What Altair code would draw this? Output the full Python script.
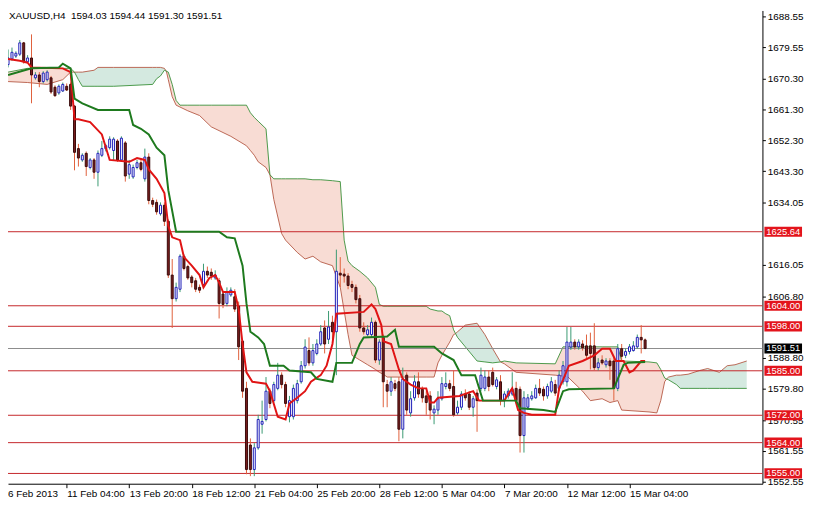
import altair as alt
import pandas as pd

# ---------------- data ----------------
opens = [1674.48,1676.14,1676.97,1677.52,1680.83,1675.31,1676.41,1670.62,1671.45,1669.52,
1670.07,1670.62,1667.86,1666.21,1666.76,1668.14,1668.69,1662.35,1649.93,1646.62,
1648.55,1644.41,1646.62,1643.03,1647.98,1649.93,1650.21,1649.38,1652.14,1646.62,
1651.59,1642.48,1641.66,1644.41,1645.79,1641.10,1647.45,1634.76,1634.21,1630.90,
1633.38,1628.69,1612.97,1606.07,1608.83,1618.48,1615.45,1612.41,1611.31,1609.38,
1610.21,1614.07,1613.79,1612.14,1611.31,1607.45,1604.69,1607.17,1606.62,1603.86,
1593.66,1579.86,1563.31,1556.14,1562.48,1569.38,1570.76,1579.04,1576.28,1579.86,
1583.72,1580.97,1571.59,1571.59,1576.28,1581.79,1586.48,1590.90,1587.31,1590.07,
1592.83,1597.52,1594.21,1599.17,1596.41,1613.52,1613.24,1612.69,1610.21,1609.38,
1606.07,1597.52,1595.59,1595.59,1599.17,1588.14,1594.76,1580.97,1579.04,1581.24,
1581.79,1567.93,1583.72,1572.69,1577.10,1581.79,1579.59,1577.66,1577.66,1572.69,
1573.52,1576.83,1580.41,1581.24,1580.41,1572.69,1574.35,1578.21,1578.21,1574.35,
1578.48,1579.86,1579.86,1583.17,1584.55,1580.41,1581.79,1576.28,1577.66,1578.21,
1579.86,1579.59,1566.07,1574.35,1576.83,1577.10,1579.86,1579.59,1577.66,1579.04,
1580.97,1579.86,1581.79,1581.79,1591.93,1593.38,1592.00,1592.83,1592.28,1592.28,
1592.28,1585.93,1588.14,1586.76,1587.86,1587.86,1579.86,1591.45,1589.52,1590.62,
1590.90,1592.00,1594.76,1594.03]

highs = [1678.90,1679.45,1678.35,1681.66,1681.10,1677.24,1683.31,1672.28,1672.28,1672.55,
1672.83,1671.17,1668.41,1668.69,1669.24,1668.97,1669.24,1662.62,1651.31,1648.55,
1649.10,1647.17,1647.17,1649.38,1652.14,1651.31,1653.52,1653.24,1652.69,1653.52,
1652.14,1646.62,1645.24,1646.62,1646.62,1649.93,1648.55,1635.59,1635.04,1634.21,
1634.21,1629.24,1617.66,1610.76,1619.04,1619.04,1616.00,1612.97,1612.14,1610.21,
1616.28,1615.45,1614.90,1614.35,1612.14,1608.28,1609.38,1609.38,1608.83,1605.24,
1594.21,1581.79,1565.24,1563.86,1572.14,1576.28,1583.17,1579.86,1581.79,1587.31,
1584.55,1581.79,1577.66,1580.97,1582.35,1587.86,1594.21,1594.76,1592.83,1594.21,
1598.35,1599.72,1602.48,1601.10,1620.41,1618.21,1614.90,1613.52,1611.31,1610.21,
1607.17,1599.17,1598.35,1600.55,1599.72,1594.21,1595.59,1582.35,1583.17,1582.35,
1583.17,1585.93,1584.55,1579.04,1583.72,1584.55,1580.41,1579.04,1579.04,1574.90,
1579.04,1583.17,1584.55,1582.35,1585.10,1576.28,1579.04,1579.59,1579.04,1577.66,
1579.59,1585.93,1585.10,1585.10,1585.93,1583.17,1583.72,1579.04,1579.86,1584.55,
1581.79,1580.41,1579.04,1578.21,1579.04,1580.97,1582.62,1580.41,1581.24,1583.17,
1582.35,1585.10,1587.86,1597.79,1597.79,1594.21,1594.21,1593.93,1595.59,1596.14,
1598.90,1588.69,1589.52,1588.69,1588.69,1588.69,1592.83,1592.83,1591.45,1592.83,
1593.66,1595.59,1598.35,1594.44]

lows = [1673.66,1675.59,1676.41,1676.97,1674.76,1675.04,1663.17,1670.07,1667.86,1668.97,
1669.52,1665.93,1665.10,1665.66,1666.48,1666.76,1661.24,1643.59,1644.69,1646.07,
1641.93,1643.86,1641.10,1638.90,1647.45,1649.10,1649.65,1646.62,1646.07,1646.07,
1640.28,1641.10,1641.10,1643.86,1643.31,1640.28,1633.66,1632.83,1630.62,1630.35,
1627.31,1612.14,1597.52,1605.24,1608.00,1614.35,1611.59,1609.38,1608.00,1607.72,
1609.38,1612.14,1611.59,1611.59,1600.28,1603.31,1603.86,1606.62,1602.21,1588.14,
1577.10,1554.76,1554.21,1554.21,1561.93,1566.62,1570.21,1574.07,1575.72,1579.31,
1579.86,1574.35,1569.93,1570.76,1575.45,1581.24,1585.66,1586.48,1586.48,1589.52,
1592.28,1590.07,1592.83,1594.21,1583.72,1609.38,1610.76,1608.83,1608.00,1604.69,
1596.41,1595.59,1595.04,1594.76,1587.31,1586.76,1574.35,1574.35,1577.66,1579.04,
1564.41,1565.24,1572.14,1571.59,1576.28,1577.10,1575.72,1572.14,1570.76,1569.38,
1572.14,1576.28,1579.59,1579.04,1571.59,1572.14,1573.52,1576.28,1573.52,1571.59,
1567.17,1579.04,1579.04,1579.04,1580.41,1579.59,1574.90,1574.35,1576.83,1577.66,
1575.45,1561.10,1561.10,1573.52,1576.28,1576.83,1577.66,1576.28,1576.83,1578.48,
1577.66,1579.04,1580.97,1580.41,1591.10,1591.17,1591.17,1590.90,1588.69,1585.38,
1585.10,1585.10,1586.76,1585.93,1582.35,1576.28,1579.04,1587.86,1588.69,1589.79,
1590.62,1591.45,1590.07,1591.30]

closes = [1676.41,1678.07,1677.79,1680.83,1675.31,1676.41,1671.45,1671.45,1669.52,1672.00,
1672.28,1666.48,1665.38,1668.14,1668.69,1667.04,1662.35,1648.83,1647.17,1647.98,
1644.69,1646.62,1643.03,1648.55,1649.93,1650.76,1652.69,1652.69,1646.62,1652.97,
1641.93,1645.24,1644.41,1645.79,1643.86,1647.45,1634.76,1633.66,1631.45,1633.38,
1628.69,1612.97,1606.07,1609.38,1618.48,1614.90,1612.14,1610.76,1608.83,1608.55,
1614.07,1612.97,1612.69,1612.97,1604.69,1604.41,1608.00,1608.55,1603.03,1592.00,
1579.04,1556.14,1556.14,1562.48,1570.76,1570.21,1579.04,1575.45,1580.97,1583.72,
1580.97,1575.45,1576.28,1579.86,1581.24,1586.48,1591.93,1587.31,1590.90,1592.83,
1596.41,1592.83,1597.79,1596.41,1614.07,1612.97,1612.69,1609.93,1609.38,1605.79,
1597.52,1596.41,1596.97,1599.17,1588.14,1593.38,1581.79,1579.04,1581.79,1579.86,
1567.93,1582.62,1573.52,1576.83,1581.79,1578.21,1577.10,1575.72,1573.52,1573.79,
1576.83,1581.24,1581.24,1579.86,1572.14,1574.35,1578.21,1577.10,1574.35,1576.83,
1576.28,1583.72,1583.17,1580.41,1580.97,1582.35,1576.28,1578.21,1579.04,1579.59,
1576.28,1566.07,1577.10,1577.10,1577.66,1579.86,1578.48,1577.66,1580.41,1581.79,
1578.48,1583.72,1586.48,1593.38,1593.38,1592.00,1593.38,1591.72,1589.52,1590.07,
1585.93,1587.31,1587.31,1587.86,1586.48,1579.86,1591.45,1589.24,1590.62,1592.00,
1592.28,1594.76,1594.03,1591.51]

# Tenkan-sen (red) read at its turning points
tenkan_idx = [0,3,5,6,14,16,17,18,21,24,26,31,33,35,36,38,40,41,42,44,
45,47,49,50,51.5,53,54,55,58,59,60,61,62.5,66,67,69,71,72,74,76,
77.5,80,81.5,83,84,91,93,94,95.5,96,98,100,101,103,105,107,108,109,110,115.5,
117.5,119,120.5,127,128,129,130.5,132,134,140,141,142,143.5,147,150,152,154,155.5,157.5,159,
160,162,163]
tenkan_val = [1676.14,1675.59,1675.04,1673.66,1673.38,1672.28,1658.48,1658.48,1657.66,1654.07,
1646.62,1646.07,1647.17,1646.62,1643.86,1641.10,1636.97,1627.31,1624.00,1623.17,
1618.21,1615.72,1612.97,1609.38,1612.14,1612.97,1610.76,1608.00,1608.00,1603.03,
1592.83,1584.55,1581.79,1581.24,1579.04,1571.59,1570.76,1575.45,1577.10,1579.04,
1581.79,1583.72,1586.48,1592.83,1601.66,1602.21,1604.41,1603.03,1598.35,1593.66,
1592.83,1585.38,1582.62,1580.97,1579.86,1579.86,1575.72,1575.72,1577.10,1577.66,
1578.48,1579.04,1576.28,1576.28,1578.21,1579.86,1573.52,1572.69,1572.14,1572.14,
1579.86,1582.35,1586.48,1587.86,1589.52,1591.45,1591.45,1587.86,1587.86,1584.55,
1585.10,1587.86,1587.86]

# Kijun-sen (green) read at its turning points
kijun_idx = [0,6,13,14,16,17,19,23,31,32,34,36,38,40,41,43,54,56,58,60,
61,62,64,65.5,67,70.5,72,77.5,79,83,84,88,90,91,97,99,100,109,111,114,
116,119.5,121.5,130,131,137,140,142,143.5,155,157.5,158.5,163]
kijun_val = [1671.45,1673.38,1673.66,1674.76,1673.38,1664.55,1663.17,1661.24,1661.24,1656.83,
1655.72,1654.07,1650.21,1647.98,1637.79,1625.64,1625.64,1624.00,1623.72,1615.72,
1604.69,1596.41,1594.76,1592.83,1586.48,1586.48,1585.10,1584.55,1582.62,1581.79,
1587.31,1587.31,1592.83,1594.76,1595.04,1596.97,1592.00,1592.00,1590.07,1588.14,
1583.72,1583.72,1576.28,1576.28,1574.07,1573.52,1572.97,1579.04,1579.59,1579.86,
1586.76,1587.31,1587.59]

# Kumo (Senkou span A / B), one segment per colour of the cloud
cloud_idx = [0,5,10,14,16,17,
17,18,19,22,23,27,37,38,39,40,40.5,
40.5,41,42,43,44,46,49,52,57,61,62,63,64,66,67,68,70,71,74,76,78,80,83,85,86,87,88,90,92,94,95,96,97,107,108,109,110,111,112,113,114,114.5,
114.5,115,117,120,122,124,126,
126,127,130,140,142,143,147,149,152,154,156,157,164,166,167,168,168.5,
168.5,169,171,172,174,177,179,182,184,186,189]
span_a = [1669.52,1669.24,1668.69,1670.07,1672.28,1672.28,
1672.28,1672.28,1672.28,1672.83,1673.66,1673.66,1673.66,1673.66,1673.66,1673.38,1672.55,
1672.55,1670.07,1665.10,1662.62,1662.07,1660.97,1659.59,1656.28,1653.52,1650.76,1649.38,1647.98,1646.07,1644.41,1642.30,1635.04,1625.10,1623.17,1619.59,1617.66,1618.48,1616.83,1615.72,1609.38,1602.48,1595.59,1589.52,1588.14,1586.76,1585.38,1584.55,1584.00,1583.17,1583.17,1583.17,1583.17,1587.31,1589.52,1591.45,1593.38,1595.59,1595.86,
1595.86,1596.41,1598.35,1598.90,1595.59,1591.45,1587.59,
1587.59,1587.03,1584.55,1583.72,1583.45,1583.45,1579.04,1576.28,1576.83,1575.72,1576.28,1573.52,1572.97,1572.69,1576.28,1581.79,1582.62,
1582.62,1583.17,1583.72,1583.72,1584.00,1585.10,1585.66,1584.55,1586.48,1586.76,1587.86]
span_b = [1672.28,1673.38,1673.38,1673.38,1673.38,1672.28,
1672.28,1670.07,1668.14,1668.14,1668.14,1668.14,1668.69,1670.34,1671.17,1672.83,1672.55,
1672.55,1672.28,1668.69,1664.00,1662.62,1662.62,1662.62,1662.62,1662.62,1662.62,1660.41,1659.04,1657.93,1655.72,1642.30,1641.10,1641.10,1641.10,1641.10,1641.10,1640.83,1640.83,1640.55,1640.28,1623.17,1617.10,1615.72,1614.07,1612.14,1609.38,1604.41,1603.86,1603.86,1603.86,1603.03,1602.76,1602.48,1602.48,1601.66,1601.10,1596.97,1595.86,
1595.86,1594.76,1592.00,1587.86,1587.59,1587.31,1587.59,
1587.59,1587.86,1587.31,1587.03,1592.00,1592.00,1592.00,1592.00,1592.00,1592.00,1592.00,1587.86,1587.59,1587.31,1585.38,1582.90,1582.62,
1582.62,1582.35,1580.97,1579.86,1579.86,1579.86,1579.86,1579.86,1579.86,1579.86,1579.86]
cloud_seg = [0]*6 + [1]*11 + [2]*42 + [3]*7 + [4]*17 + [5]*11
seg_kind = ["bear", "bull", "bear", "bull", "bear", "bull"]

levels = [1625.64, 1604.00, 1598.00, 1585.00, 1572.00, 1564.00, 1555.00]
last_price = 1591.51

y_ticks = [1688.55, 1679.55, 1670.30, 1661.30, 1652.30, 1643.30, 1634.05,
           1616.05, 1606.80, 1588.80, 1579.80, 1570.55, 1561.55, 1552.55]
x_label_idx = [15, 31, 47, 63, 79, 95, 111, 127, 143, 159]
x_label_txt = ["11 Feb 04:00", "13 Feb 20:00", "18 Feb 12:00", "21 Feb 04:00", "25 Feb 20:00",
               "28 Feb 12:00", "5 Mar 04:00", "7 Mar 20:00", "12 Mar 12:00", "15 Mar 04:00"]
first_label = "6 Feb 2013"
title_text = "XAUUSD,H4\u00a0\u00a01594.03 1594.44 1591.30 1591.51"

# ---------------- chart ----------------
W, H = 762, 478
FONT = "Liberation Sans"
xs = alt.Scale(domain=[1.25, 191.75], nice=False, zero=False)
ys = alt.Scale(domain=[1552.0, 1690.3], nice=False, zero=False)

candles = pd.DataFrame({"i": list(range(len(opens))), "open": opens, "high": highs,
                        "low": lows, "close": closes})
candles["dir"] = ["bull" if c >= o else "bear" for o, c in zip(opens, closes)]
tenkan = pd.DataFrame({"i": tenkan_idx, "v": tenkan_val})
kijun = pd.DataFrame({"i": kijun_idx, "v": kijun_val})
cloud = pd.DataFrame({"i": cloud_idx, "a": span_a, "b": span_b, "seg": cloud_seg})
cloud["kind"] = [seg_kind[s] for s in cloud_seg]
lv = pd.DataFrame({"level": levels, "label": [f"{v:.2f}" for v in levels]})
last = pd.DataFrame({"level": [last_price], "label": [f"{last_price:.2f}"]})

label_expr = ("[" + ",".join(f"'{t}'" for t in x_label_txt) + "][indexof(["
              + ",".join(str(v) for v in x_label_idx) + "], datum.value)]")

x_axis = alt.Axis(values=x_label_idx, labelExpr=label_expr, orient="bottom", title=None,
                  grid=False, tickSize=4, tickColor="black", domainColor="black",
                  labelAlign="left", labelBaseline="top", labelPadding=1, labelFlush=False,
                  labelOverlap=False, labelColor="black", labelFont=FONT, labelFontSize=10)
y_axis = alt.Axis(values=y_ticks, format=".2f", orient="right", title=None, grid=False,
                  tickSize=3, tickColor="black", domainColor="black", labelPadding=2,
                  labelFlush=False, labelOverlap=False, labelColor="black",
                  labelFont=FONT, labelFontSize=10, labelBaseline="middle")

X = lambda f: alt.X(f, scale=xs, axis=x_axis, title=None)
Y = lambda f: alt.Y(f, scale=ys, axis=y_axis, title=None)

cloud_area = alt.Chart(cloud).mark_area(opacity=0.22, clip=True).encode(
    x=X("i:Q"), y=Y("a:Q"), y2="b:Q", detail="seg:N",
    color=alt.Color("kind:N", scale=alt.Scale(domain=["bear", "bull"],
                    range=["#e0603c", "#3a9a72"]), legend=None))
span_a_line = alt.Chart(cloud).mark_line(color="#b0503a", strokeWidth=1, opacity=0.85,
                                         clip=True).encode(
    x=X("i:Q"), y=Y("a:Q"), order="i:Q")
span_b_line = alt.Chart(cloud).mark_line(color="#2f8a2f", strokeWidth=1, opacity=0.85,
                                         clip=True).encode(
    x=X("i:Q"), y=Y("b:Q"), order="i:Q")

level_rules = alt.Chart(lv).mark_rule(color="#c4262a", strokeWidth=1).encode(y=Y("level:Q"))
last_rule = alt.Chart(last).mark_rule(color="#8c8c8c", strokeWidth=1).encode(y=Y("level:Q"))

wicks = alt.Chart(candles).mark_rule(strokeWidth=1, clip=True).encode(
    x=X("i:Q"), y=Y("low:Q"), y2="high:Q",
    color=alt.Color("dir:N", scale=alt.Scale(domain=["bull", "bear"],
                    range=["#1c1cb8", "#1a1a1a"]), legend=None))
bodies = alt.Chart(candles).mark_bar(size=2, strokeWidth=1, clip=True).encode(
    x=X("i:Q"), y=Y("open:Q"), y2="close:Q",
    fill=alt.Fill("dir:N", scale=alt.Scale(domain=["bull", "bear"],
                  range=["#ffffff", "#7a1e1e"]), legend=None),
    stroke=alt.Stroke("dir:N", scale=alt.Scale(domain=["bull", "bear"],
                      range=["#1c1cb8", "#3a0a0a"]), legend=None))

tenkan_line = alt.Chart(tenkan).mark_line(color="#e01414", strokeWidth=2, clip=True).encode(
    x=X("i:Q"), y=Y("v:Q"), order="i:Q")
kijun_line = alt.Chart(kijun).mark_line(color="#1e7a1e", strokeWidth=2, clip=True).encode(
    x=X("i:Q"), y=Y("v:Q"), order="i:Q")

box_path = "M-1,-0.27L1,-0.27L1,0.27L-1,0.27Z"
level_boxes = alt.Chart(lv).mark_point(shape=box_path, size=1444, filled=True, opacity=1,
                                       color="#e3141c").encode(
    x=alt.value(W + 21), y=Y("level:Q"))
level_text = alt.Chart(lv).mark_text(color="white", font=FONT, fontSize=9.5,
                                     align="center", baseline="middle").encode(
    x=alt.value(W + 21), y=Y("level:Q"), text="label:N")
last_box = alt.Chart(last).mark_point(shape=box_path, size=1444, filled=True, opacity=1,
                                      color="black").encode(
    x=alt.value(W + 21), y=Y("level:Q"))
last_text = alt.Chart(last).mark_text(color="white", font=FONT, fontSize=9.5,
                                      align="center", baseline="middle").encode(
    x=alt.value(W + 21), y=Y("level:Q"), text="label:N")

title = alt.Chart(pd.DataFrame({"t": [title_text]})).mark_text(
    align="left", baseline="top", font=FONT, fontSize=10, color="black").encode(
    x=alt.value(1), y=alt.value(1), text="t:N")
first = alt.Chart(pd.DataFrame({"t": [first_label]})).mark_text(
    align="left", baseline="top", font=FONT, fontSize=10, color="black").encode(
    x=alt.value(0), y=alt.value(H + 5), text="t:N")

chart = alt.layer(
    cloud_area, span_a_line, span_b_line, level_rules, last_rule,
    wicks, bodies, tenkan_line, kijun_line,
    level_boxes, level_text, last_box, last_text, title, first
).properties(
    width=W, height=H, background="white",
    autosize=alt.AutoSizeParams(type="none"),
    padding={"left": 0, "top": 0, "right": 43, "bottom": 17},
).configure_view(stroke=None)

chart.save("out.html", embed_options={"renderer": "svg", "actions": False})
